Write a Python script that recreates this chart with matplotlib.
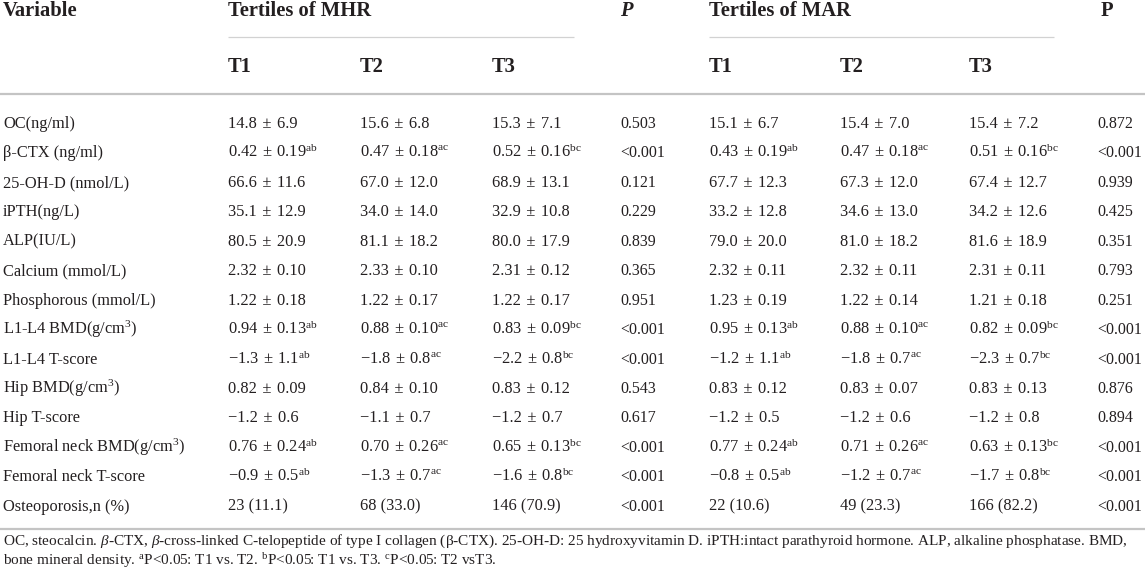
import matplotlib
matplotlib.use("Agg")
import matplotlib.pyplot as plt

plt.rcParams['font.family'] = ['Liberation Serif', 'DejaVu Serif']
plt.rcParams['mathtext.fontset'] = 'custom'
plt.rcParams['mathtext.rm'] = 'Liberation Serif'
plt.rcParams['mathtext.it'] = 'Liberation Serif:italic'
plt.rcParams['mathtext.bf'] = 'Liberation Serif:bold'

AB = r"$^{\mathrm{ab}}$"
AC = r"$^{\mathrm{ac}}$"
BC = r"$^{\mathrm{bc}}$"
CM3 = r"(g/cm$^{\mathrm{3}}$)"

variables = ["OC(ng/ml)", "β-CTX (ng/ml)", "25-OH-D (nmol/L)", "iPTH(ng/L)", "ALP(IU/L)",
             "Calcium (mmol/L)", "Phosphorous (mmol/L)", "L1-L4 BMD" + CM3, "L1-L4 T-score",
             "Hip BMD" + CM3, "Hip T-score", "Femoral neck BMD" + CM3,
             "Femoral neck T-score", "Osteoporosis,n (%)"]

mhr_t1 = ["14.8 ± 6.9", "0.42 ± 0.19" + AB, "66.6 ± 11.6", "35.1 ± 12.9", "80.5 ± 20.9",
          "2.32 ± 0.10", "1.22 ± 0.18", "0.94 ± 0.13" + AB, "−1.3 ± 1.1" + AB, "0.82 ± 0.09",
          "−1.2 ± 0.6", "0.76 ± 0.24" + AB, "−0.9 ± 0.5" + AB, "23 (11.1)"]
mhr_t2 = ["15.6 ± 6.8", "0.47 ± 0.18" + AC, "67.0 ± 12.0", "34.0 ± 14.0", "81.1 ± 18.2",
          "2.33 ± 0.10", "1.22 ± 0.17", "0.88 ± 0.10" + AC, "−1.8 ± 0.8" + AC, "0.84 ± 0.10",
          "−1.1 ± 0.7", "0.70 ± 0.26" + AC, "−1.3 ± 0.7" + AC, "68 (33.0)"]
mhr_t3 = ["15.3 ± 7.1", "0.52 ± 0.16" + BC, "68.9 ± 13.1", "32.9 ± 10.8", "80.0 ± 17.9",
          "2.31 ± 0.12", "1.22 ± 0.17", "0.83 ± 0.09" + BC, "−2.2 ± 0.8" + BC, "0.83 ± 0.12",
          "−1.2 ± 0.7", "0.65 ± 0.13" + BC, "−1.6 ± 0.8" + BC, "146 (70.9)"]
mhr_p = ["0.503", "<0.001", "0.121", "0.229", "0.839", "0.365", "0.951", "<0.001", "<0.001",
         "0.543", "0.617", "<0.001", "<0.001", "<0.001"]

mar_t1 = ["15.1 ± 6.7", "0.43 ± 0.19" + AB, "67.7 ± 12.3", "33.2 ± 12.8", "79.0 ± 20.0",
          "2.32 ± 0.11", "1.23 ± 0.19", "0.95 ± 0.13" + AB, "−1.2 ± 1.1" + AB, "0.83 ± 0.12",
          "−1.2 ± 0.5", "0.77 ± 0.24" + AB, "−0.8 ± 0.5" + AB, "22 (10.6)"]
mar_t2 = ["15.4 ± 7.0", "0.47 ± 0.18" + AC, "67.3 ± 12.0", "34.6 ± 13.0", "81.0 ± 18.2",
          "2.32 ± 0.11", "1.22 ± 0.14", "0.88 ± 0.10" + AC, "−1.8 ± 0.7" + AC, "0.83 ± 0.07",
          "−1.2 ± 0.6", "0.71 ± 0.26" + AC, "−1.2 ± 0.7" + AC, "49 (23.3)"]
mar_t3 = ["15.4 ± 7.2", "0.51 ± 0.16" + BC, "67.4 ± 12.7", "34.2 ± 12.6", "81.6 ± 18.9",
          "2.31 ± 0.11", "1.21 ± 0.18", "0.82 ± 0.09" + BC, "−2.3 ± 0.7" + BC, "0.83 ± 0.13",
          "−1.2 ± 0.8", "0.63 ± 0.13" + BC, "−1.7 ± 0.8" + BC, "166 (82.2)"]
mar_p = ["0.872", "<0.001", "0.939", "0.425", "0.351", "0.793", "0.251", "<0.001", "<0.001",
         "0.876", "0.894", "<0.001", "<0.001", "<0.001"]

footer1 = ("OC, steocalcin. $\\it{β}$-CTX, $\\it{β}$-cross-linked C-telopeptide of type I collagen (β-CTX). "
           "25-OH-D: 25 hydroxyvitamin D. iPTH:intact parathyroid hormone. ALP, alkaline phosphatase. BMD,")
footer2 = (r"bone mineral density. $^{\mathrm{a}}$P<0.05: T1 vs. T2. $^{\mathrm{b}}$P<0.05: T1 vs. T3. "
           r"$^{\mathrm{c}}$P<0.05: T2 vsT3.")

W, H = 1145, 579
fig = plt.figure(figsize=(W / 100, H / 100), dpi=100)
ax = fig.add_axes([0, 0, 1, 1])
ax.set_xlim(0, W)
ax.set_ylim(H, 0)
ax.axis('off')

txt = '#231f20'
body_fs = 11.8
p_fs = 11.5
head_fs = 14.8
foot_fs = 11.0

col_x = [3, 228, 360, 492, 620, 709, 840, 969, 1097]
p_cols = {4, 8}


def cell(s):
    # slightly wider spacing around the plus-minus sign, as in the typeset table
    return s.replace(" ± ", "\u2004±\u2004")


# header
ax.text(col_x[0], 16.5, "Variable", fontsize=head_fs, fontweight='bold', color=txt, va='baseline')
ax.text(col_x[1], 16.5, "Tertiles of MHR", fontsize=head_fs, fontweight='bold', color=txt, va='baseline')
ax.text(col_x[4], 16.5, "P", fontsize=head_fs, fontweight='bold', fontstyle='italic', color=txt, va='baseline')
ax.text(col_x[5], 16.5, "Tertiles of MAR", fontsize=head_fs, fontweight='bold', color=txt, va='baseline')
ax.text(1101, 16.5, "P", fontsize=head_fs, fontweight='bold', color=txt, va='baseline')
for i, lab in zip([1, 2, 3, 5, 6, 7], ["T1", "T2", "T3", "T1", "T2", "T3"]):
    ax.text(col_x[i], 72, lab, fontsize=head_fs, fontweight='bold', color=txt, va='baseline')

ax.plot([228, 574], [36.5, 36.5], color='#d2d2d2', lw=0.9, solid_capstyle='butt')
ax.plot([709, 1054], [36.5, 36.5], color='#d2d2d2', lw=0.9, solid_capstyle='butt')
ax.plot([0, W], [93.5, 93.5], color='#c4c4c4', lw=1.6, solid_capstyle='butt')

columns = [variables, mhr_t1, mhr_t2, mhr_t3, mhr_p, mar_t1, mar_t2, mar_t3, mar_p]
y0, dy = 128.0, 29.45
for ci, col in enumerate(columns):
    fs = p_fs if ci in p_cols else body_fs
    for ri, val in enumerate(col):
        ax.text(col_x[ci], y0 + ri * dy, cell(val), fontsize=fs, color=txt, va='baseline')

ax.plot([0, W], [528.5, 528.5], color='#c4c4c4', lw=1.6, solid_capstyle='butt')

ax.text(3, 545, footer1, fontsize=foot_fs, color=txt, va='baseline')
ax.text(3, 565, footer2, fontsize=foot_fs, color=txt, va='baseline')

fig.savefig("out.png", dpi=100, facecolor='white')
